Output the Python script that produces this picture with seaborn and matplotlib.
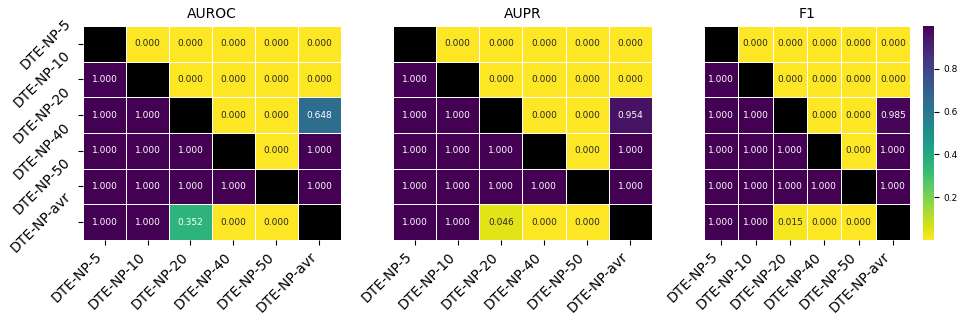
import numpy as np
import matplotlib
matplotlib.use('Agg')
import matplotlib.pyplot as plt
import seaborn as sns

names = ['DTE-NP-5', 'DTE-NP-10', 'DTE-NP-20', 'DTE-NP-40', 'DTE-NP-50', 'DTE-NP-avr']

# pairwise results, row vs column (diagonal is empty)
auroc = [[np.nan, 0.000, 0.000, 0.000, 0.000, 0.000],
         [1.000, np.nan, 0.000, 0.000, 0.000, 0.000],
         [1.000, 1.000, np.nan, 0.000, 0.000, 0.648],
         [1.000, 1.000, 1.000, np.nan, 0.000, 1.000],
         [1.000, 1.000, 1.000, 1.000, np.nan, 1.000],
         [1.000, 1.000, 0.352, 0.000, 0.000, np.nan]]

aupr = [[np.nan, 0.000, 0.000, 0.000, 0.000, 0.000],
        [1.000, np.nan, 0.000, 0.000, 0.000, 0.000],
        [1.000, 1.000, np.nan, 0.000, 0.000, 0.954],
        [1.000, 1.000, 1.000, np.nan, 0.000, 1.000],
        [1.000, 1.000, 1.000, 1.000, np.nan, 1.000],
        [1.000, 1.000, 0.046, 0.000, 0.000, np.nan]]

f1 = [[np.nan, 0.000, 0.000, 0.000, 0.000, 0.000],
      [1.000, np.nan, 0.000, 0.000, 0.000, 0.000],
      [1.000, 1.000, np.nan, 0.000, 0.000, 0.985],
      [1.000, 1.000, 1.000, np.nan, 0.000, 1.000],
      [1.000, 1.000, 1.000, 1.000, np.nan, 1.000],
      [1.000, 1.000, 0.015, 0.000, 0.000, np.nan]]

titles = ['AUROC', 'AUPR', 'F1']
mats = [auroc, aupr, f1]

fig = plt.figure(figsize=(9.72, 3.24), dpi=100)
boxes = [[0.0854, 0.2593, 0.2654, 0.6605],
         [0.4043, 0.2593, 0.2665, 0.6605],
         [0.7243, 0.2593, 0.2120, 0.6605]]
cax = fig.add_axes([0.9496, 0.2593, 0.0113, 0.6605])

for i in range(3):
    ax = fig.add_axes(boxes[i])
    m = np.array(mats[i], dtype=float)
    mask = np.eye(len(names), dtype=bool)
    sns.heatmap(m, mask=mask, cmap='viridis_r', vmin=0, vmax=1,
                annot=True, fmt='.3f', annot_kws={'size': 6.5},
                linewidths=0.5, linecolor='white',
                xticklabels=names, yticklabels=names if i == 0 else False,
                cbar=(i == 2), cbar_ax=cax if i == 2 else None, ax=ax)
    ax.set_facecolor('black')
    ax.set_title(titles[i], fontsize=10)
    ax.set_xticklabels(names, rotation=45, ha='right', fontsize=10)
    if i == 0:
        ax.set_yticklabels(names, rotation=45, ha='right', va='center', fontsize=10)
    else:
        ax.tick_params(left=False)

cax.set_yticks([0.2, 0.4, 0.6, 0.8])
cax.tick_params(labelsize=6.5)

plt.savefig('out.png', dpi=100)
